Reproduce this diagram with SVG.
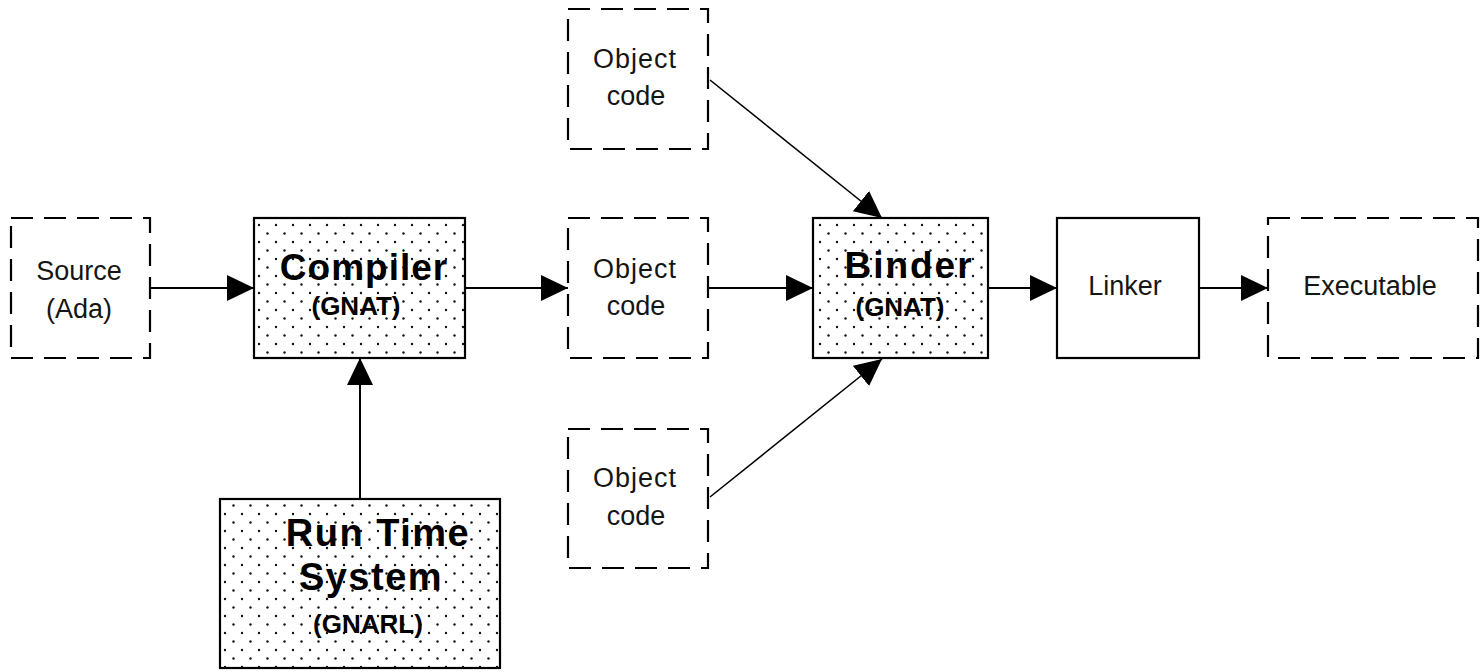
<svg xmlns="http://www.w3.org/2000/svg" width="1484" height="672" viewBox="0 0 1484 672">
<defs>
<pattern id="dots" x="0" y="0" width="17" height="17" patternUnits="userSpaceOnUse">
<rect width="17" height="17" fill="#fff"/>
<circle cx="4" cy="4" r="1.2" fill="#111"/>
<circle cx="12.5" cy="12.5" r="1.2" fill="#111"/>
</pattern>
<marker id="arr" markerUnits="userSpaceOnUse" markerWidth="27" markerHeight="26" refX="27" refY="13" orient="auto">
<path d="M0,0 L27,13 L0,26 z" fill="#000"/>
</marker>
<style>
.dash{fill:#fff;stroke:#000;stroke-width:2.2;stroke-dasharray:22 11}
.solid{fill:#fff;stroke:#000;stroke-width:2.2}
.stip{fill:url(#dots);stroke:#000;stroke-width:2.2}
.reg{font-family:"Liberation Sans",Arial,sans-serif;font-size:27px;fill:#151515;text-anchor:middle}
.b1{font-family:"Liberation Sans",Arial,sans-serif;font-weight:bold;font-size:37px;fill:#000;text-anchor:middle}
.b2{font-family:"Liberation Sans",Arial,sans-serif;font-weight:bold;font-size:26px;fill:#000;text-anchor:middle}
.b3{font-family:"Liberation Sans",Arial,sans-serif;font-weight:bold;font-size:38px;fill:#000;text-anchor:middle;letter-spacing:1.5px}
.conn{stroke:#000;stroke-width:2;fill:none;marker-end:url(#arr)}
.diag{stroke:#000;stroke-width:1.6;fill:none;marker-end:url(#arr)}
</style>
</defs>
<rect width="1484" height="672" fill="#fff"/>
<g id="connectors">
<line class="conn" x1="150" y1="288" x2="254" y2="288"/>
<line class="conn" x1="465" y1="288" x2="568" y2="288"/>
<line class="conn" x1="708" y1="288" x2="813" y2="288"/>
<line class="conn" x1="988" y1="288" x2="1057" y2="288"/>
<line class="conn" x1="1199" y1="288" x2="1268" y2="288"/>
<line class="conn" x1="360" y1="499" x2="360" y2="358"/>
<line class="diag" x1="710" y1="80" x2="882" y2="218"/>
<line class="diag" x1="710" y1="497" x2="882" y2="359"/>
</g>
<g id="source">
<rect class="dash" x="11" y="218" width="139" height="140"/>
<text class="reg" x="79" y="280">Source</text>
<text class="reg" x="79" y="318">(Ada)</text>
</g>
<g id="compiler">
<rect class="stip" x="254" y="218" width="211" height="140"/>
<text class="b1" x="364" y="280" letter-spacing="1">Compiler</text>
<text class="b2" x="356" y="315">(GNAT)</text>
</g>
<g id="rts">
<rect class="stip" x="220" y="499" width="280" height="169"/>
<text class="b3" x="378" y="546">Run Time</text>
<text class="b3" x="371" y="590">System</text>
<text class="b2" x="368" y="633">(GNARL)</text>
</g>
<g id="obj1">
<rect class="dash" x="568" y="9" width="140" height="140"/>
<text class="reg" x="635" y="68" letter-spacing="1">Object</text>
<text class="reg" x="636" y="105">code</text>
</g>
<g id="obj2">
<rect class="dash" x="568" y="218" width="140" height="140"/>
<text class="reg" x="635" y="278" letter-spacing="1">Object</text>
<text class="reg" x="636" y="315">code</text>
</g>
<g id="obj3">
<rect class="dash" x="568" y="429" width="140" height="139"/>
<text class="reg" x="635" y="487" letter-spacing="1">Object</text>
<text class="reg" x="636" y="525">code</text>
</g>
<g id="binder">
<rect class="stip" x="813" y="218" width="175" height="140"/>
<text class="b1" x="909" y="278" letter-spacing="2">Binder</text>
<text class="b2" x="900" y="316">(GNAT)</text>
</g>
<g id="linker">
<rect class="solid" x="1057" y="218" width="142" height="140"/>
<text class="reg" x="1125" y="295">Linker</text>
</g>
<g id="executable">
<rect class="dash" x="1268" y="218" width="210" height="140"/>
<text class="reg" x="1370" y="295">Executable</text>
</g>
</svg>
